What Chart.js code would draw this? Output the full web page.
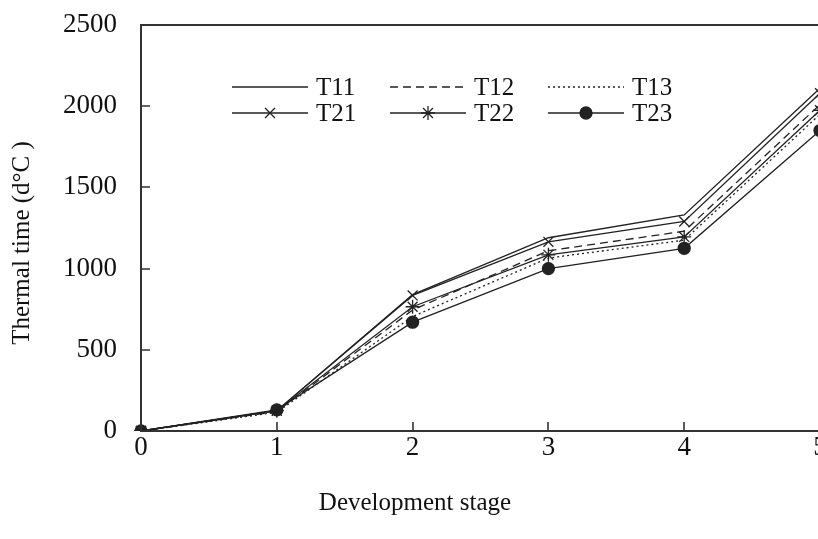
<!DOCTYPE html>
<html>
<head>
<meta charset="utf-8">
<script src="https://cdn.jsdelivr.net/npm/chart.js@4.4.0/dist/chart.umd.min.js"></script>
<style>
  html, body { margin: 0; padding: 0; background: #fff; overflow: hidden; }
  #wrap { width: 818px; height: 539px; overflow: hidden; }
</style>
</head>
<body>
<div id="wrap"><canvas id="myChart" width="840" height="539"></canvas></div>
<script>
// 데이터
const stages = ["0", "1", "2", "3", "4", "5"];
const T11 = [0, 125, 840, 1190, 1330, 2110];
const T12 = [0, 120, 745, 1110, 1230, 2010];
const T13 = [0, 115, 705, 1065, 1175, 1950];
const T21 = [0, 125, 835, 1165, 1290, 2080];
const T22 = [0, 125, 765, 1085, 1195, 1975];
const T23 = [0, 130, 670, 1000, 1125, 1850];
const yTicks = [0, 500, 1000, 1500, 2000, 2500];

const ink = "#222";
const serif = "'Liberation Serif', 'Times New Roman', serif";

const lineSet = (label, values, extra) => Object.assign({
  label: label,
  data: values,
  borderColor: ink,
  backgroundColor: ink,
  borderWidth: 1.3,
  pointRadius: 0,
  tension: 0,
  fill: false,
}, extra);

const datasets = [
  lineSet("T11", T11, {}),
  lineSet("T12", T12, { borderDash: [8, 5] }),
  lineSet("T13", T13, { borderDash: [2, 3] }),
  lineSet("T21", T21, { pointStyle: "crossRot", pointRadius: 7, pointBorderWidth: 1.3 }),
  lineSet("T22", T22, { pointStyle: "star", pointRadius: 7, pointBorderWidth: 1.3 }),
  lineSet("T23", T23, { pointStyle: "circle", pointRadius: 6 }),
];

// 안쪽으로 향하는 눈금, 위쪽 테두리, 범례, 축 제목
const decor = {
  id: "decor",
  afterDraw(chart) {
    const c = chart.ctx;
    const area = chart.chartArea;
    const xs = chart.scales.x;
    const ys = chart.scales.y;
    c.save();
    c.setLineDash([]);
    c.strokeStyle = "#333";
    c.lineWidth = 1.6;
    c.beginPath();
    xs.ticks.forEach((t, i) => {
      const px = Math.round(xs.getPixelForTick(i));
      c.moveTo(px, area.bottom);
      c.lineTo(px, area.bottom - 9);
    });
    yTicks.forEach((v) => {
      const py = Math.round(ys.getPixelForValue(v));
      c.moveTo(area.left, py);
      c.lineTo(area.left + 9, py);
    });
    c.stroke();

    // 위쪽 테두리
    c.strokeStyle = "#333";
    c.lineWidth = 2;
    c.beginPath();
    c.moveTo(area.left, area.top);
    c.lineTo(area.right + 10, area.top);
    c.stroke();

    // 범례
    const cols = [232, 390, 548];
    const rows = [87, 113];
    c.font = "25px " + serif;
    c.textBaseline = "middle";
    datasets.forEach((ds, i) => {
      const x0 = cols[i % 3];
      const y0 = rows[Math.floor(i / 3)];
      c.strokeStyle = ink;
      c.fillStyle = ink;
      c.lineWidth = 1.3;
      c.setLineDash(ds.borderDash || []);
      c.beginPath();
      c.moveTo(x0, y0);
      c.lineTo(x0 + 76, y0);
      c.stroke();
      c.setLineDash([]);
      if (ds.pointRadius > 0) {
        Chart.helpers.drawPoint(c, {
          pointStyle: ds.pointStyle,
          radius: ds.pointRadius,
          borderWidth: 1.3,
        }, x0 + 38, y0);
      }
      c.fillStyle = "#111";
      c.fillText(ds.label, x0 + 84, y0 + 1);
    });

    // x축 제목
    c.textAlign = "center";
    c.fillText("Development stage", 415, 503);

    // y축 제목
    c.translate(22, 243);
    c.rotate(-Math.PI / 2);
    c.fillText("Thermal time (d°C )", 0, 0);
    c.restore();
  },
};

const ctx = document.getElementById("myChart");
const myChart = new Chart(ctx, {
  type: "line",
  data: { labels: stages, datasets: datasets },
  options: {
    responsive: false,
    animation: false,
    devicePixelRatio: 1,
    layout: { padding: { top: 25, right: 20, left: 0, bottom: 0 } },
    plugins: { legend: { display: false }, tooltip: { enabled: false } },
    scales: {
      x: {
        type: "category",
        offset: false,
        grid: { display: true, drawOnChartArea: false, drawTicks: false },
        border: { display: true, color: "#333", width: 2 },
        ticks: { color: "#111", font: { family: serif, size: 27 }, padding: 1, maxRotation: 0 },
        afterFit(scale) {
          scale.height = 108;
          scale.paddingLeft = 0;
          scale.paddingRight = 0;
        },
      },
      y: {
        min: 0,
        max: 2500,
        afterBuildTicks(scale) { scale.ticks = yTicks.map((v) => ({ value: v })); },
        grid: { display: true, drawOnChartArea: false, drawTicks: false },
        border: { display: true, color: "#333", width: 2 },
        ticks: {
          color: "#111",
          font: { family: serif, size: 27 },
          padding: 24,
          callback: (v) => String(v),
        },
        afterFit(scale) {
          scale.width = 141;
          scale.paddingTop = 0;
          scale.paddingBottom = 0;
        },
      },
    },
  },
  plugins: [decor],
});
</script>
</body>
</html>
